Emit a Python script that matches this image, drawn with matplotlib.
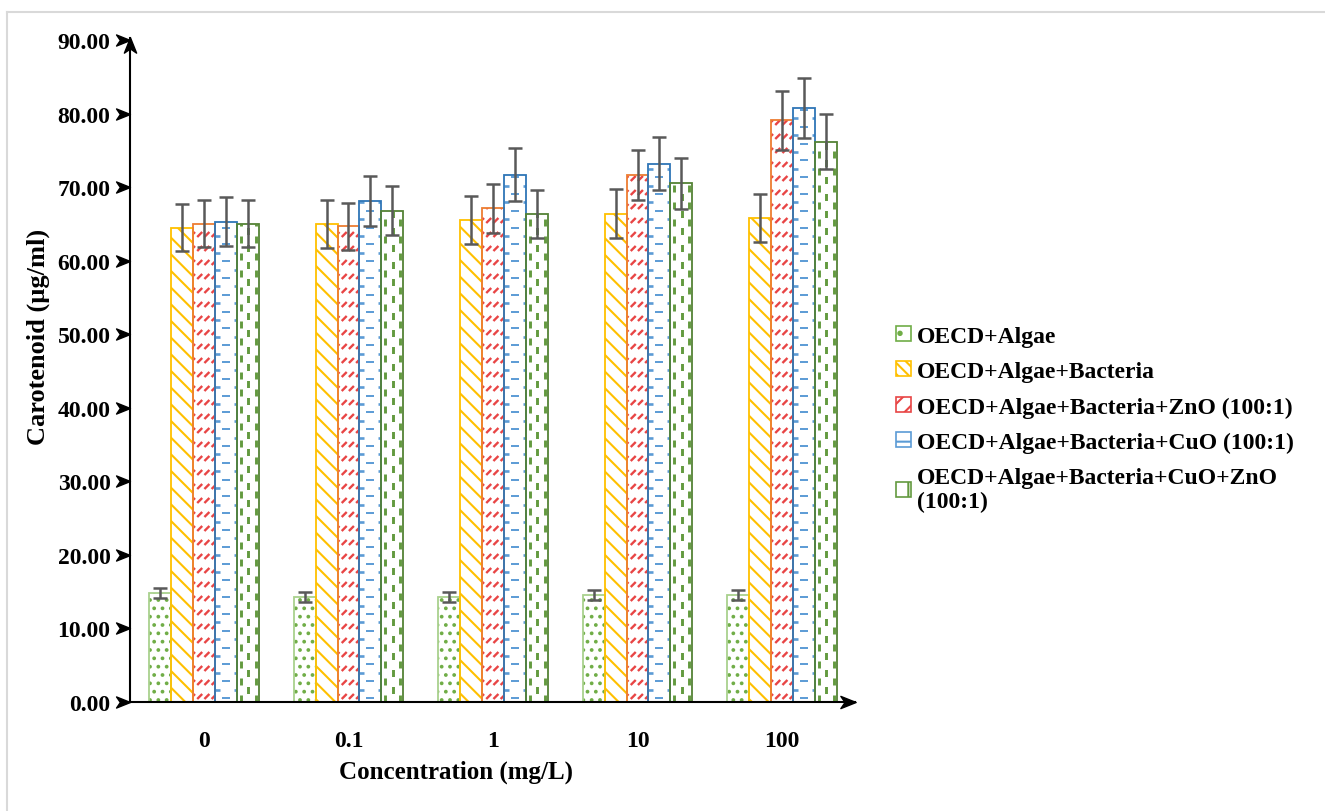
import numpy as np
import matplotlib.pyplot as plt
from matplotlib.path import Path
from matplotlib.patches import Patch
from matplotlib.lines import Line2D
from matplotlib.collections import LineCollection
import matplotlib.transforms as mtransforms

plt.rcParams['font.family'] = ['Liberation Serif', 'DejaVu Serif']
plt.rcParams['font.weight'] = 'bold'
plt.rcParams['hatch.linewidth'] = 1.5
plt.rcParams['lines.scale_dashes'] = False

concentrations = ['0', '0.1', '1', '10', '100']
labels = [
    'OECD+Algae',
    'OECD+Algae+Bacteria',
    'OECD+Algae+Bacteria+ZnO (100:1)',
    'OECD+Algae+Bacteria+CuO (100:1)',
    'OECD+Algae+Bacteria+CuO+ZnO\n(100:1)',
]
algae = [14.8, 14.3, 14.3, 14.5, 14.5]
algae_err = [0.7, 0.7, 0.7, 0.7, 0.7]
bacteria = [64.5, 65.0, 65.5, 66.4, 65.8]
bacteria_err = [3.2, 3.25, 3.3, 3.3, 3.3]
zno = [65.0, 64.7, 67.1, 71.7, 79.1]
zno_err = [3.2, 3.2, 3.3, 3.4, 4.0]
cuo = [65.3, 68.1, 71.7, 73.2, 80.8]
cuo_err = [3.3, 3.4, 3.55, 3.6, 4.1]
cuo_zno = [65.0, 66.8, 66.3, 70.5, 76.2]
cuo_zno_err = [3.2, 3.35, 3.25, 3.5, 3.8]

values = [algae, bacteria, zno, cuo, cuo_zno]
errors = [algae_err, bacteria_err, zno_err, cuo_err, cuo_zno_err]
edge_colors = ['#A9D18E', '#FFC000', '#ED7D31', '#2E75B6', '#548235']
fill_colors = ['#70AD47', '#FFC000', '#E84545', '#5B9BD5', '#639A3F']

W, H, DPI = 13.25, 8.12, 100
fig = plt.figure(figsize=(W, H), dpi=DPI)
ax = fig.add_axes([130 / 1325, 109 / 812, 725 / 1325, 662 / 812])
xmin, xmax = -0.512, 4.505
ax.set_xlim(xmin, xmax)
ax.set_ylim(0, 90)
for s in ax.spines.values():
    s.set_visible(False)

# pixels per data unit, used to size the hand drawn patterns
p0 = ax.transData.transform((0, 0))
p1 = ax.transData.transform((1, 1))
px_x, px_y = p1 - p0
PT = 72 / DPI  # points per pixel

x = np.arange(len(concentrations))
width = 0.152
offsets = (np.arange(5) - 2) * width


def clip_lines(segs, rect, color, lw, dash='solid'):
    lc = LineCollection(segs, colors=color, linewidths=lw, linestyles=[dash],
                        capstyle='butt', zorder=2)
    ax.add_collection(lc)
    lc.set_clip_path(rect)


def pattern_zno(rect):
    # rows of short red slashes
    x0, h = rect.get_x(), rect.get_height()
    w_px, h_px = rect.get_width() * px_x, h * px_y
    segs = []
    for r in np.arange(3, h_px, 14):
        for c in np.arange(-3, w_px, 7.2):
            segs.append([(x0 + c / px_x, r / px_y),
                         (x0 + (c + 5) / px_x, (r + 5) / px_y)])
    clip_lines(segs, rect, fill_colors[2], 1.7)


def pattern_cuo(rect):
    x0, h = rect.get_x(), rect.get_height()
    x1 = x0 + rect.get_width()
    h_px = h * px_y
    rows = np.arange(4, h_px, 8.4)
    even = [[(x0, r / px_y), (x1, r / px_y)] for r in rows[::2]]
    odd = [[(x0, r / px_y), (x1, r / px_y)] for r in rows[1::2]]
    clip_lines(even, rect, fill_colors[3], 1.4, (15 * PT, (8 * PT, 14 * PT)))
    clip_lines(odd, rect, fill_colors[3], 1.9, (3 * PT, (8 * PT, 14 * PT)))


def pattern_cuo_zno(rect):
    x0, h = rect.get_x(), rect.get_height()
    for i, cx in enumerate([4, 11.5, 19]):
        seg = [[(x0 + cx / px_x, 0), (x0 + cx / px_x, h)]]
        off = 8.5 * PT if i == 1 else 0
        clip_lines(seg, rect, fill_colors[4], 2.1, (off, (7 * PT, 10 * PT)))


hatches = ['..', '\\\\', None, None, None]
painters = [None, None, pattern_zno, pattern_cuo, pattern_cuo_zno]

for i in range(5):
    xs = x + offsets[i]
    if hatches[i]:
        ax.bar(xs, values[i], width, color='white', edgecolor=fill_colors[i],
               linewidth=0, hatch=hatches[i], zorder=1)
    bars = ax.bar(xs, values[i], width, color='none', edgecolor=edge_colors[i],
                  linewidth=1.3, zorder=3)
    if painters[i]:
        for rect in bars:
            painters[i](rect)
    ax.errorbar(xs, values[i], yerr=errors[i], fmt='none', ecolor='#595959',
                elinewidth=1.8, capsize=4.7, capthick=1.8, zorder=4)

# axes drawn as arrows
ax.plot([xmin, xmin], [0, 90.3], color='black', lw=1.5, clip_on=False, zorder=5)
ax.plot([xmin, xmax], [0, 0], color='black', lw=1.5, clip_on=False, zorder=5)

arrow_r = Path([(-1, 0.8), (1, 0), (-1, -0.8), (-0.45, 0), (-1, 0.8)],
               [Path.MOVETO, Path.LINETO, Path.LINETO, Path.LINETO, Path.CLOSEPOLY])
arrow_u = arrow_r.transformed(mtransforms.Affine2D().rotate_deg(90))

ax.plot([xmax - 7 / px_x], [0], marker=arrow_r, ms=11, color='black',
        clip_on=False, zorder=6)
ax.plot([xmin], [90.3 - 7 / px_y], marker=arrow_u, ms=11, color='black',
        clip_on=False, zorder=6)

yticks = np.arange(0, 91, 10)
tick_tr = mtransforms.blended_transform_factory(ax.transAxes, ax.transData)
ax.plot(np.full(len(yticks), -7 / 725), yticks, ls='none', marker=arrow_r,
        ms=10, color='black', transform=tick_tr, clip_on=False, zorder=6)

ax.set_yticks(yticks)
ax.set_yticklabels([f'{v:.2f}' for v in yticks], fontsize=17, fontweight='bold')
ax.set_xticks(x)
ax.set_xticklabels(concentrations, fontsize=17, fontweight='bold')
ax.tick_params(axis='y', length=0, pad=14)
ax.tick_params(axis='x', length=0, pad=20)

ax.set_xlabel('Concentration (mg/L)', fontsize=18, fontweight='bold')
ax.xaxis.set_label_coords(326 / 725, -69 / 662)
ax.xaxis.label.set_va('center')
ax.set_ylabel('Carotenoid (µg/ml)', fontsize=19, fontweight='bold')
ax.yaxis.set_label_coords(-92 / 725, 366 / 662)
ax.yaxis.label.set_va('center')

legend_hatch = ['.', '\\\\\\', '//', '-', '|']
handles = [Patch(facecolor='white', edgecolor=fill_colors[i] if i else '#70AD47',
                 hatch=legend_hatch[i], linewidth=1.2) for i in range(5)]
fig.legend(handles, labels, loc='upper left', bbox_to_anchor=(896 / 1325, 1 - 327 / 812),
           frameon=False, handlelength=0.65, handleheight=0.6,
           handletextpad=0.25, labelspacing=0.6, borderpad=0, borderaxespad=0,
           prop={'weight': 'bold', 'size': 17})

# light frame around the figure
frame = '#D9D9D9'
fig.add_artist(Line2D([7 / 1325, 1], [1 - 13 / 812] * 2, color=frame, lw=1.5,
                      transform=fig.transFigure))
fig.add_artist(Line2D([7 / 1325] * 2, [0, 1 - 13 / 812], color=frame, lw=1.5,
                      transform=fig.transFigure))

fig.savefig('out.png', dpi=DPI)
